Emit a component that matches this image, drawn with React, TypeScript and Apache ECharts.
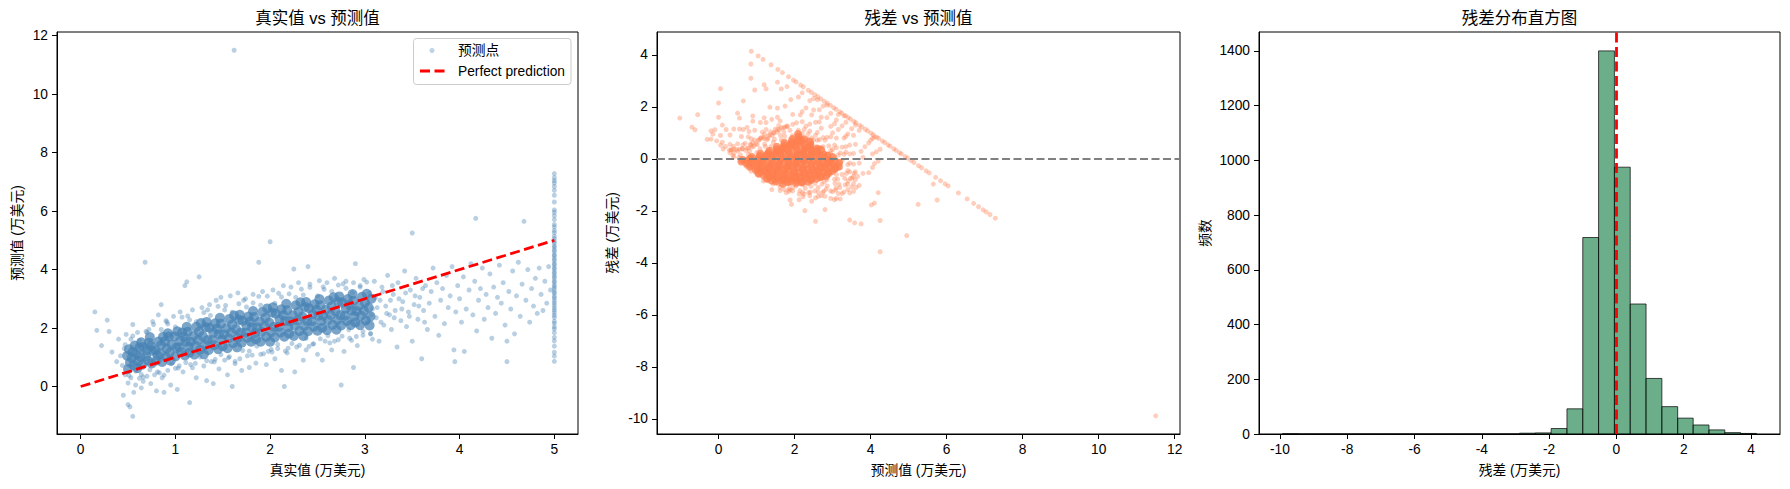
import React, { useEffect, useRef } from "react";
import * as echarts from "echarts";

const FONT = "'Liberation Sans', Arial, 'Noto Sans CJK SC', sans-serif";

// ---------- Panel data: [true value, predicted value] (万美元) ----------
// dense core of the cloud
const corePoints: [number, number][] = [
  [0.50,0.60],[0.52,0.82],[0.49,1.05],[0.51,1.27],
  [0.56,0.73],[0.54,0.98],[0.55,1.18],[0.57,1.40],
  [0.60,0.63],[0.61,0.87],[0.59,1.09],[0.62,1.33],
  [0.65,0.75],[0.63,1.02],[0.66,1.35],[0.64,1.51],
  [0.71,0.89],[0.69,1.04],[0.70,1.24],[0.72,1.50],
  [0.75,0.79],[0.76,1.22],[0.74,1.38],[0.73,1.69],
  [0.80,0.89],[0.81,1.07],[0.79,1.24],[0.82,1.54],
  [0.86,0.84],[0.84,1.13],[0.85,1.42],[0.87,1.70],
  [0.90,1.01],[0.91,1.30],[0.89,1.55],[0.92,1.82],
  [0.95,0.88],[0.94,1.16],[0.96,1.43],[0.93,1.71],
  [1.00,1.03],[1.01,1.33],[0.99,1.71],[1.02,1.89],
  [1.06,1.18],[1.04,1.34],[1.05,1.56],[1.07,1.85],
  [1.10,1.06],[1.11,1.53],[1.09,1.70],[1.12,2.04],
  [1.15,1.16],[1.14,1.36],[1.16,1.53],[1.13,1.87],
  [1.20,1.09],[1.21,1.40],[1.19,1.73],[1.22,2.04],
  [1.26,1.26],[1.24,1.59],[1.25,1.87],[1.27,2.17],
  [1.30,1.10],[1.31,1.42],[1.29,1.72],[1.32,2.03],
  [1.35,1.25],[1.34,1.59],[1.36,2.01],[1.33,2.21],
  [1.41,1.41],[1.39,1.59],[1.40,1.84],[1.42,2.16],
  [1.45,1.28],[1.46,1.79],[1.44,1.98],[1.47,2.35],
  [1.50,1.38],[1.49,1.60],[1.51,1.79],[1.48,2.15],
  [1.55,1.31],[1.56,1.65],[1.54,1.99],[1.57,2.31],
  [1.61,1.49],[1.59,1.84],[1.60,2.12],[1.62,2.43],
  [1.65,1.34],[1.66,1.66],[1.64,1.96],[1.67,2.28],
  [1.70,1.50],[1.69,1.84],[1.71,2.25],[1.68,2.45],
  [1.76,1.67],[1.74,1.84],[1.75,2.08],[1.77,2.39],
  [1.80,1.53],[1.81,2.03],[1.79,2.22],[1.82,2.58],
  [1.85,1.62],[1.84,1.83],[1.86,2.02],[1.83,2.38],
  [1.90,1.53],[1.91,1.87],[1.89,2.22],[1.92,2.55],
  [1.96,1.70],[1.94,2.06],[1.95,2.35],[1.97,2.67],
  [2.00,1.53],[2.01,1.86],[1.99,2.19],[2.02,2.53],
  [2.05,1.68],[2.04,2.04],[2.06,2.49],[2.03,2.71],
  [2.11,1.85],[2.09,2.04],[2.10,2.30],[2.12,2.64],
  [2.15,1.70],[2.16,2.24],[2.14,2.44],[2.17,2.83],
  [2.20,1.81],[2.19,2.03],[2.21,2.23],[2.18,2.61],
  [2.25,1.73],[2.26,2.08],[2.24,2.44],[2.27,2.78],
  [2.31,1.90],[2.29,2.26],[2.30,2.56],[2.32,2.88],
  [2.35,1.73],[2.36,2.07],[2.34,2.39],[2.37,2.72],
  [2.40,1.89],[2.39,2.24],[2.41,2.68],[2.38,2.89],
  [2.46,2.05],[2.44,2.23],[2.45,2.48],[2.47,2.81],
  [2.50,1.91],[2.51,2.42],[2.49,2.62],[2.52,2.99],
  [2.55,2.01],[2.54,2.23],[2.56,2.42],[2.53,2.78],
  [2.60,1.93],[2.61,2.27],[2.59,2.62],[2.62,2.94],
  [2.66,2.11],[2.64,2.45],[2.65,2.74],[2.67,3.05],
  [2.70,1.94],[2.71,2.27],[2.69,2.58],[2.72,2.90],
  [2.75,2.09],[2.74,2.44],[2.76,2.87],[2.73,3.08],
  [2.81,2.24],[2.79,2.42],[2.80,2.67],[2.82,2.99],
  [2.85,2.10],[2.86,2.60],[2.84,2.79],[2.87,3.16],
  [2.90,2.19],[2.89,2.40],[2.91,2.58],[2.88,2.93],
  [2.95,2.10],[2.96,2.42],[2.94,2.76],[2.97,3.07],
  [3.01,2.26],[2.99,2.59],[3.00,2.87],[3.02,3.17],
  [3.05,2.09],[3.06,2.40],[3.04,2.70],[3.07,3.00],
];

// fuzzy rim just above and below the core
const edgePoints: [number, number][] = [
  [0.47,1.43],[0.55,1.73],[0.62,1.58],[0.70,1.85],[0.77,2.12],[0.85,1.95],[0.92,2.14],[1.00,2.04],
  [1.07,2.37],[1.15,2.28],[1.22,2.22],[1.30,2.53],[1.37,2.43],[1.45,2.74],[1.52,2.62],[1.60,2.54],
  [1.67,2.83],[1.75,2.72],[1.82,2.86],[1.90,2.78],[1.97,3.09],[2.05,2.85],[2.12,3.06],[2.20,3.17],
  [2.27,3.05],[2.35,3.13],[2.42,3.39],[2.50,3.10],[2.57,3.32],[2.65,3.25],[2.72,3.47],[2.80,3.36],
  [2.87,3.21],[2.95,3.45],[3.02,3.57],
  [0.51,0.38],[0.58,0.53],[0.66,0.32],[0.73,0.57],[0.81,0.50],[0.88,0.39],[0.96,0.78],[1.03,0.63],
  [1.11,0.82],[1.18,0.64],[1.26,1.01],[1.33,0.88],[1.41,0.84],[1.48,1.09],[1.56,0.98],[1.63,0.86],
  [1.71,1.23],[1.78,1.21],[1.86,1.38],[1.93,1.12],[2.01,1.27],[2.08,1.44],[2.16,1.21],[2.23,1.47],
  [2.31,1.41],[2.38,1.65],[2.46,1.46],[2.53,1.63],[2.61,1.74],[2.68,1.55],[2.76,1.72],[2.83,1.94],
  [2.91,1.71],[2.98,1.88],[3.06,1.81],
  [0.53,1.62],[0.64,0.41],[0.69,1.88],[0.83,0.47],[0.91,2.21],[1.04,0.71],[1.13,2.41],[1.21,0.79],
  [1.34,2.62],[1.42,0.93],[1.53,2.77],[1.57,1.02],[1.72,2.95],[1.81,1.07],[1.88,3.08],[2.02,1.18],
  [2.09,3.19],[2.19,1.31],[2.33,3.33],[2.41,1.37],[2.56,3.41],[2.63,1.49],[2.77,3.51],[2.86,1.58],
  [2.99,3.66],[3.08,1.62],
];

const outlierPoints: [number, number][] = [
  [0.15,2.55],[0.17,1.92],[0.22,1.40],[0.28,2.27],[0.30,1.88],[0.33,1.18],[0.38,0.85],[0.40,1.62],
  [0.42,1.05],[0.44,0.72],[0.46,1.30],[0.47,0.40],[0.48,1.78],[0.45,-0.30],[0.50,-0.62],[0.52,-0.70],
  [0.55,-1.02],[0.50,0.12],[0.53,0.30],[0.56,-0.20],[0.58,0.05],[0.55,2.12],[0.60,1.85],[0.62,0.28],
  [0.64,-0.05],[0.66,0.18],[0.68,4.25],[0.70,0.35],[0.72,1.95],[0.74,0.10],[0.76,2.22],[0.78,0.40],
  [0.80,-0.15],[0.82,2.45],[0.85,2.80],[0.86,0.30],[0.88,-0.20],[0.90,2.25],[0.92,0.55],[0.95,0.05],
  [0.98,2.40],[1.00,0.62],[1.02,-0.10],[1.05,2.55],[1.08,0.50],[1.10,3.45],[1.12,3.58],[1.15,-0.55],
  [1.16,0.75],[1.18,2.62],[1.22,0.30],[1.25,3.75],[1.28,2.70],[1.30,0.70],[1.33,0.20],[1.36,2.80],
  [1.38,0.85],[1.40,0.10],[1.43,2.95],[1.46,0.60],[1.48,3.05],[1.52,0.90],[1.55,0.40],[1.58,3.10],
  [1.60,0.00],[1.62,11.50],[1.63,0.78],[1.66,3.20],[1.68,0.95],[1.70,0.55],[1.74,3.00],[1.76,1.05],
  [1.78,0.65],[1.82,3.15],[1.85,0.80],[1.88,4.25],[1.90,1.10],[1.92,3.25],[1.96,0.75],[1.98,1.20],
  [2.00,4.95],[2.03,3.30],[2.05,0.95],[2.08,1.30],[2.12,0.55],[2.14,3.45],[2.15,0.00],[2.18,1.15],
  [2.22,3.40],[2.25,4.02],[2.26,0.50],[2.28,1.35],[2.30,3.55],[2.35,0.90],[2.38,1.25],[2.40,4.10],
  [2.42,3.50],[2.45,1.45],[2.50,1.10],[2.52,3.62],[2.55,0.90],[2.58,1.55],[2.60,3.55],[2.65,1.25],
  [2.68,3.70],[2.72,1.60],[2.75,0.05],[2.78,1.20],[2.80,3.60],[2.84,1.65],[2.88,0.65],[2.88,3.55],
  [2.90,4.20],[2.92,1.40],[2.95,3.40],[2.98,1.75],
];

const upperRangePoints: [number, number][] = [
  [3.02,2.20],[3.05,3.20],[3.06,1.80],[3.08,2.65],[3.10,3.60],[3.12,2.35],[3.15,1.55],[3.16,2.95],
  [3.18,3.40],[3.20,2.10],[3.22,2.75],[3.24,3.80],[3.26,2.45],[3.28,1.95],[3.30,3.15],[3.32,2.60],
  [3.34,1.35],[3.35,3.55],[3.38,2.25],[3.40,2.90],[3.42,3.95],[3.44,2.05],[3.46,2.55],[3.48,3.30],
  [3.50,5.25],[3.50,1.55],[3.52,2.80],[3.54,3.70],[3.56,2.30],[3.58,3.05],[3.60,0.95],[3.62,2.60],
  [3.64,3.45],[3.66,1.95],[3.68,2.85],[3.70,3.25],[3.72,4.05],[3.74,2.40],[3.76,3.55],[3.78,1.75],
  [3.80,2.95],[3.82,3.35],[3.84,2.15],[3.86,3.80],[3.88,2.70],[3.90,3.10],[3.92,4.10],[3.94,1.25],
  [3.95,0.85],[3.96,2.55],[3.98,3.45],[4.00,3.00],[4.02,2.20],[4.04,3.75],[4.05,1.20],[4.07,2.65],
  [4.10,3.30],[4.12,4.20],[4.14,2.45],[4.16,3.60],[4.17,5.75],[4.18,1.90],[4.20,2.95],[4.22,3.35],
  [4.24,4.05],[4.26,2.30],[4.28,3.15],[4.30,2.70],[4.32,3.85],[4.34,1.65],[4.36,3.40],[4.38,2.50],
  [4.40,3.05],[4.42,4.15],[4.44,2.85],[4.46,3.55],[4.48,2.10],[4.50,0.85],[4.50,1.55],[4.52,3.25],
  [4.54,2.65],[4.56,3.95],[4.58,1.80],[4.60,3.10],[4.62,4.25],[4.64,2.40],[4.66,3.50],[4.68,5.65],
  [4.70,2.95],[4.72,4.00],[4.74,2.20],[4.76,3.35],[4.78,2.75],[4.80,3.70],[4.82,2.50],[4.84,4.05],
  [4.86,3.15],[4.88,2.60],[4.90,3.60],[4.92,2.85],[4.94,4.10],[4.96,3.30],
  [3.03,2.85],[3.07,2.45],[3.11,3.05],[3.13,2.70],[3.17,2.20],[3.19,3.25],[3.23,2.50],[3.27,2.95],
  [3.29,3.45],[3.31,2.35],[3.36,3.00],[3.39,2.65],[3.43,3.20],[3.47,2.40],[3.53,3.10],[3.57,2.75],
  [3.61,3.35],[3.63,2.20],
];

// true value capped at 5.0
const cappedPoints: [number, number][] = [
  [5,0.86],[5,1.04],[5,1.17],[5,1.38],[5,1.56],[5,1.68],[5,1.84],[5,1.97],[5,2.04],[5,2.16],
  [5,2.23],[5,2.36],[5,2.44],[5,2.53],[5,2.61],[5,2.69],[5,2.78],[5,2.86],[5,2.94],[5,3.03],
  [5,3.09],[5,3.19],[5,3.24],[5,3.34],[5,3.41],[5,3.47],[5,3.56],[5,3.61],[5,3.71],[5,3.77],
  [5,3.86],[5,3.92],[5,4.01],[5,4.07],[5,4.16],[5,4.21],[5,4.31],[5,4.37],[5,4.46],[5,4.51],
  [5,4.61],[5,4.67],[5,4.76],[5,4.81],[5,4.91],[5,4.97],[5,5.06],[5,5.14],[5,5.26],[5,5.34],
  [5,5.46],[5,5.54],[5,5.71],[5,5.84],[5,5.96],[5,6.04],[5,6.31],[5,6.54],[5,6.71],[5,6.84],
  [5,6.96],[5,7.04],[5,7.14],[5,7.28],
];

const perfectLine: [number, number][] = [[0, 0], [5, 5]];

// ---------- Histogram of residuals ----------
const binEdges = [
  -9.92, -9.45, -8.98, -8.51, -8.04, -7.57, -7.10, -6.63, -6.16, -5.70, -5.23,
  -4.76, -4.29, -3.82, -3.35, -2.88, -2.41, -1.94, -1.47, -1.00, -0.53, -0.06,
  0.41, 0.88, 1.35, 1.82, 2.28, 2.75, 3.22, 3.69, 4.16,
];
const binCounts = [
  1, 0, 0, 0, 0, 0, 0, 0, 0, 0, 0, 0, 0, 0, 0,
  3, 4, 20, 92, 718, 1400, 975, 475, 203, 100, 58, 33, 15, 5, 2,
];

// ---------- Tick values ----------
const ticksX1 = [0, 1, 2, 3, 4, 5];
const ticksY1 = [0, 2, 4, 6, 8, 10, 12];
const ticksX2 = [0, 2, 4, 6, 8, 10, 12];
const ticksY2 = [-10, -8, -6, -4, -2, 0, 2, 4];
const ticksX3 = [-10, -8, -6, -4, -2, 0, 2, 4];
const ticksY3 = [0, 200, 400, 600, 800, 1000, 1200, 1400];

const STEEL = "#4682B4";
const CORAL = "#FF7F50";

const toResidual = (pts: [number, number][]) =>
  pts.map(([t, p]) => [p, Math.round((t - p) * 1000) / 1000]);

function valAxis(
  gridIndex: number,
  min: number,
  max: number,
  ticks: number[],
  name: string,
  nameGap: number
) {
  return {
    type: "value",
    gridIndex,
    min,
    max,
    name,
    nameLocation: "middle",
    nameGap,
    nameTextStyle: { fontSize: 13.75, color: "#000", fontFamily: FONT },
    axisLine: { show: true, onZero: false, lineStyle: { color: "#000", width: 1 } },
    axisTick: {
      show: true,
      inside: false,
      length: 5,
      customValues: ticks,
      lineStyle: { color: "#000", width: 1 },
    },
    axisLabel: {
      show: true,
      customValues: ticks,
      margin: 9,
      fontSize: 13.75,
      color: "#000",
      fontFamily: FONT,
      formatter: (v: number) => String(v),
    },
    splitLine: { show: false },
  };
}

function titleText(x: number, text: string) {
  return {
    type: "text",
    x,
    y: 17.5,
    style: {
      text,
      align: "center",
      verticalAlign: "middle",
      fontSize: 16.5,
      fontFamily: FONT,
      fill: "#000",
    },
  };
}

export default function App() {
  const ref = useRef<HTMLDivElement>(null);

  useEffect(() => {
    document.body.style.margin = "0";
    const chart = echarts.init(ref.current!, null, { renderer: "svg" });

    const sparse = [...edgePoints, ...outlierPoints, ...upperRangePoints, ...cappedPoints];

    const gridBase = {
      show: true,
      borderColor: "#000",
      borderWidth: 1,
      backgroundColor: "transparent",
      containLabel: false,
    };

    const option: any = {
      animation: false,
      backgroundColor: "#fff",
      grid: [
        { ...gridBase, left: 57, top: 32, width: 521, height: 402 },
        { ...gridBase, left: 657, top: 32, width: 523, height: 402 },
        { ...gridBase, left: 1259, top: 32, width: 521, height: 402 },
      ],
      xAxis: [
        valAxis(0, -0.25, 5.25, ticksX1, "真实值 (万美元)", 30),
        valAxis(1, -1.62, 12.14, ticksX2, "预测值 (万美元)", 30),
        valAxis(2, -10.62, 4.86, ticksX3, "残差 (万美元)", 30),
      ],
      yAxis: [
        valAxis(0, -1.625, 12.125, ticksY1, "预测值 (万美元)", 33),
        valAxis(1, -10.58, 4.88, ticksY2, "残差 (万美元)", 38),
        valAxis(2, 0, 1469, ticksY3, "频数", 47),
      ],
      series: [
        {
          name: "预测点",
          type: "scatter",
          xAxisIndex: 0,
          yAxisIndex: 0,
          data: sparse,
          symbol: "circle",
          symbolSize: 5,
          itemStyle: { color: STEEL, opacity: 0.38 },
          silent: true,
          clip: true,
        },
        {
          name: "预测点",
          type: "scatter",
          xAxisIndex: 0,
          yAxisIndex: 0,
          data: corePoints,
          symbol: "circle",
          symbolSize: 10,
          itemStyle: { color: STEEL, opacity: 0.72 },
          silent: true,
          clip: true,
        },
        {
          name: "Perfect prediction",
          type: "line",
          xAxisIndex: 0,
          yAxisIndex: 0,
          data: perfectLine,
          showSymbol: false,
          symbol: "none",
          lineStyle: { color: "#FF0000", width: 2.8, type: [10, 4.5] },
          silent: true,
          z: 5,
        },
        {
          type: "scatter",
          xAxisIndex: 1,
          yAxisIndex: 1,
          data: toResidual(sparse),
          symbol: "circle",
          symbolSize: 5,
          itemStyle: { color: CORAL, opacity: 0.38 },
          silent: true,
          clip: true,
        },
        {
          type: "scatter",
          xAxisIndex: 1,
          yAxisIndex: 1,
          data: toResidual(corePoints),
          symbol: "circle",
          symbolSize: 8,
          itemStyle: { color: CORAL, opacity: 0.78 },
          silent: true,
          clip: true,
        },
        {
          type: "line",
          xAxisIndex: 1,
          yAxisIndex: 1,
          data: [],
          silent: true,
          z: 6,
          markLine: {
            silent: true,
            symbol: ["none", "none"],
            label: { show: false },
            lineStyle: { color: "#808080", width: 2, type: [8, 3.5] },
            emphasis: { disabled: true },
            data: [{ yAxis: 0 }],
          },
        },
        {
          type: "custom",
          xAxisIndex: 2,
          yAxisIndex: 2,
          silent: true,
          clip: true,
          data: binCounts.map((c, i) => [binEdges[i], binEdges[i + 1], c]),
          encode: { x: [0, 1], y: 2 },
          renderItem: (_params: any, api: any) => {
            const lo = api.value(0);
            const hi = api.value(1);
            const c = api.value(2);
            const p0 = api.coord([lo, c]);
            const p1 = api.coord([hi, 0]);
            return {
              type: "rect",
              shape: { x: p0[0], y: p0[1], width: p1[0] - p0[0], height: p1[1] - p0[1] },
              style: { fill: "rgba(46,139,87,0.7)", stroke: "rgba(0,0,0,0.7)", lineWidth: 1 },
            };
          },
        },
        {
          type: "line",
          xAxisIndex: 2,
          yAxisIndex: 2,
          data: [],
          silent: true,
          z: 6,
          markLine: {
            silent: true,
            symbol: ["none", "none"],
            label: { show: false },
            lineStyle: { color: "#FF0000", width: 2.8, type: [10, 4.5] },
            emphasis: { disabled: true },
            data: [{ xAxis: 0 }],
          },
        },
      ],
      graphic: [
        titleText(317.5, "真实值 vs 预测值"),
        titleText(918.5, "残差 vs 预测值"),
        titleText(1519.5, "残差分布直方图"),
        {
          type: "group",
          z: 100,
          children: [
            {
              type: "rect",
              shape: { x: 413.5, y: 38.5, width: 157.5, height: 46, r: 3 },
              style: { fill: "rgba(255,255,255,0.8)", stroke: "#cccccc", lineWidth: 1 },
            },
            {
              type: "circle",
              shape: { cx: 432, cy: 50.5, r: 2.5 },
              style: { fill: STEEL, opacity: 0.35 },
            },
            {
              type: "line",
              shape: { x1: 420, y1: 71, x2: 446, y2: 71 },
              style: { stroke: "#FF0000", lineWidth: 2.8, lineDash: [10, 4.5] },
            },
            {
              type: "text",
              x: 458,
              y: 50.5,
              style: {
                text: "预测点",
                verticalAlign: "middle",
                fontSize: 13.75,
                fontFamily: FONT,
                fill: "#000",
              },
            },
            {
              type: "text",
              x: 458,
              y: 71,
              style: {
                text: "Perfect prediction",
                verticalAlign: "middle",
                fontSize: 13.75,
                fontFamily: FONT,
                fill: "#000",
              },
            },
          ],
        },
      ],
    };

    chart.setOption(option);
    return () => chart.dispose();
  }, []);

  return (
    <div
      ref={ref}
      style={{ position: "fixed", left: 0, top: 0, width: 1790, height: 489, background: "#fff" }}
    />
  );
}
